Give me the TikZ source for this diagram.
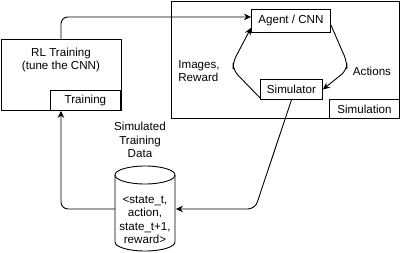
\documentclass[tikz,border=0pt]{standalone}
\usepackage{fontspec}
\setmainfont{Liberation Sans}
\usetikzlibrary{arrows.meta}

\begin{document}
\begin{tikzpicture}[x=1pt, y=-1pt, line width=0.9pt,
  every node/.style={font=\fontsize{11.6}{13.5}\selectfont},
  box/.style={draw, fill=white, inner sep=0pt, anchor=north west},
  lbl/.style={align=center, inner sep=0pt},
  arr/.style={-{Stealth[length=7pt, width=6.5pt]}, rounded corners=7pt}]
  \useasboundingbox (0,0) rectangle (401,252);

  % outer frames with their tags
  \node[box, minimum width=120pt, minimum height=71pt] (rl) at (0.5,39) {};
  \node[box, minimum width=70pt, minimum height=20pt] (train) at (50,90) {Training};
  \node[lbl] (rltext) at (61,60) {RL Training\\(tune the CNN)};
  \node[box, minimum width=228pt, minimum height=117pt] (sim) at (171,1) {};
  \node[box, minimum width=70pt, minimum height=19pt] (simtag) at (329,99) {Simulation};

  % inner loop
  \node[box, minimum width=79pt, minimum height=23pt] (agent) at (251,9) {Agent / CNN};
  \node[box, minimum width=62pt, minimum height=20pt] (simulator) at (260,79) {Simulator};
  \node[lbl, align=left] (imgs) at (199,71) {Images,\\Reward};
  \node[lbl] (acts) at (372,71) {Actions};

  % training data store
  \node[minimum width=60pt, minimum height=85pt, inner sep=0pt, anchor=north west] (data) at (115,166) {};
  \draw[fill=white] (115,175) -- (115,242) arc[start angle=180, end angle=360, x radius=30pt, y radius=9pt]
    -- (175,175) arc[start angle=0, end angle=180, x radius=30pt, y radius=9pt];
  \draw (115,175) arc[start angle=180, end angle=360, x radius=30pt, y radius=9pt];
  \node[lbl] (datatext) at (145,220) {<state\_t,\\action,\\state\_t+1,\\reward>};
  \node[lbl] (datalbl) at (140,140) {Simulated\\Training\\Data};

  \coordinate (simbend1) at (347,62);
  \coordinate (simbend2) at (347,70);
  \coordinate (imgbend1) at (233,70);
  \coordinate (imgbend2) at (233,62);
  \coordinate (databend) at (255,0);

  % connectors
  \draw[arr] (rl.north) |- ([yshift=4pt]agent.west);
  \draw[arr] ([yshift=-4pt]agent.east) -- (simbend1) -- (simbend2) -- (simulator.east);
  \draw[arr] ([yshift=2pt]simulator.south west) -- (imgbend1) -- (imgbend2) -- ([yshift=5pt]agent.south west);
  \draw[arr] (simulator.south) -- (data.east -| databend) -- (data.east);
  \draw[arr] (data.west) -| (rl.south);
\end{tikzpicture}
\end{document}
